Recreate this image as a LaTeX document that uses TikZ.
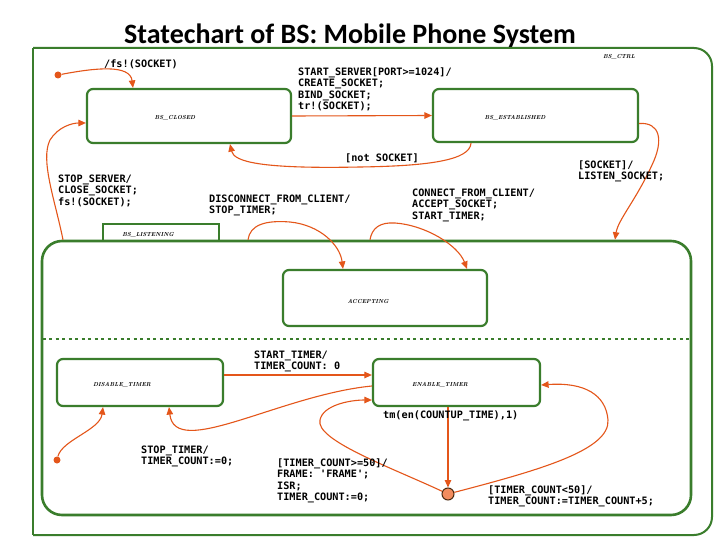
\documentclass[tikz,border=0pt]{standalone}
\usepackage{fontspec}
\usetikzlibrary{arrows.meta,calc}
\newfontfamily\lblfont{DejaVu Sans Mono}
\newfontfamily\titlefont{Carlito}
\definecolor{stg}{HTML}{3A7D2C}
\definecolor{tro}{HTML}{E4561A}
\definecolor{jfill}{HTML}{F28C5E}
\definecolor{jdraw}{HTML}{4A2A10}
\begin{document}
\begin{tikzpicture}[x=1pt,y=-1pt,
  statebox/.style={draw=stg,line width=2.2pt,rounded corners=6pt,inner sep=0pt},
  stname/.style={font=\fontsize{5.8}{6}\selectfont\itshape\bfseries,inner sep=0pt},
  lbl/.style={font=\lblfont\fontsize{10.2}{11.4}\selectfont\bfseries,anchor=north west,align=left,inner sep=0pt},
  trans/.style={draw=tro,line width=1.1pt,-{Triangle[length=7.5pt,width=6.5pt]}},
  initdot/.style={circle,fill=tro,inner sep=0pt,minimum size=7pt},
]
\useasboundingbox[fill=white] (0,0) rectangle (720,540);

% title
\node[font=\titlefont\bfseries\fontsize{28}{32}\selectfont,anchor=base] (title) at (350,44) {Statechart of BS: Mobile Phone System};

% outer BS_CTRL box
\draw[stg,line width=2pt] (33,48) [rounded corners=18pt] -- (712,48) -- (712,535) -- (33,535);
\draw[stg,line width=2pt] (33,48) -- (33,535);
\node[stname] (ctrllbl) at (619,57) {BS\_CTRL};

% states
\node[statebox,minimum width=204pt,minimum height=54pt] (closed) at (189,116) {};
\node[stname] (closedlbl) at (175,118) {BS\_CLOSED};
\node[statebox,minimum width=205pt,minimum height=53pt] (est) at (535.5,115.5) {};
\node[stname] (estlbl) at (515,118) {BS\_ESTABLISHED};

\node[draw=stg,line width=2pt,inner sep=0pt,minimum width=116pt,minimum height=17pt] (listtab) at (161,232.5) {};
\node[stname] (listlbl) at (148,235) {BS\_LISTENING};
\node[draw=stg,line width=2.6pt,rounded corners=20pt,inner sep=0pt,minimum width=649pt,minimum height=274pt,fill=none] (listening) at (366.5,378) {};
\draw[stg,line width=1.8pt,dash pattern=on 3pt off 3.5pt] ([yshift=39pt,xshift=2pt]listening.west) -- ([yshift=39pt,xshift=-3pt]listening.east);

\node[statebox,minimum width=204pt,minimum height=56pt] (accept) at (385,298) {};
\node[stname] (acceptlbl) at (368,301) {ACCEPTING};
\node[statebox,minimum width=166pt,minimum height=47pt] (disable) at (140,382.5) {};
\node[stname] (disablelbl) at (122,385) {DISABLE\_TIMER};
\node[statebox,minimum width=167pt,minimum height=47pt] (enable) at (456.5,382.5) {};
\node[stname] (enablelbl) at (440,385) {ENABLE\_TIMER};

\node[circle,draw=jdraw,fill=jfill,line width=1pt,inner sep=0pt,minimum size=12pt] (junc) at (448,494) {};

% initial dots
\node[initdot] (init1) at (58,75) {};
\node[initdot] (init2) at (57,460) {};

% transitions
\draw[trans] (init1) .. controls (95,68) and (130,64) .. ([xshift=-56pt]closed.north);
\node[lbl] (l1) at (104,59.5) {/fs!(SOCKET)};

\draw[trans] (closed.east) -- (est.west);
\node[lbl] (l2) at (298,67.5) {START\_SERVER[PORT>=1024]/\\CREATE\_SOCKET;\\BIND\_SOCKET;\\tr!(SOCKET);};

\draw[trans] ([xshift=-64.5pt]est.south) .. controls (470,160) and (430,166) .. (360,167) .. controls (262,169) and (234,162) .. ([xshift=41pt]closed.south);
\node[lbl] (l3) at (345,153.5) {[not SOCKET]};

\draw[trans] ([yshift=-8pt]est.east) .. controls (660,122) and (664,140) .. (652,165) .. controls (636,200) and (618,220) .. ([xshift=248.5pt]listening.north);
\node[lbl] (l4) at (578,160.5) {[SOCKET]/\\LISTEN\_SOCKET;};

\draw[trans] ([xshift=-303.5pt]listening.north) .. controls (55,200) and (40,160) .. (50,140) .. controls (58,127) and (72,123) .. ([yshift=-7pt]closed.west);
\node[lbl] (l5) at (58,174.5) {STOP\_SERVER/\\CLOSE\_SOCKET;\\fs!(SOCKET);};

\draw[trans] ([xshift=-118.5pt]listening.north) .. controls (250,225) and (265,220) .. (290,222) .. controls (320,225) and (340,245) .. ([xshift=-42pt]accept.north);
\node[lbl] (l6) at (209,194.5) {DISCONNECT\_FROM\_CLIENT/\\STOP\_TIMER;};

\draw[trans] ([xshift=3.5pt]listening.north) .. controls (372,228) and (380,222) .. (395,223) .. controls (425,225) and (458,245) .. ([xshift=82pt]accept.north);
\node[lbl] (l7) at (412,188.5) {CONNECT\_FROM\_CLIENT/\\ACCEPT\_SOCKET;\\START\_TIMER;};

\draw[trans] ([yshift=7.5pt]disable.east) -- ([yshift=7.5pt]enable.west);
\node[lbl] (l8) at (254,350.5) {START\_TIMER/\\TIMER\_COUNT: 0};

\draw[trans] ([yshift=-3.5pt]enable.west) .. controls (280,395) and (175,460) .. ([xshift=29pt]disable.south);
\node[lbl] (l9) at (141,445.5) {STOP\_TIMER/\\TIMER\_COUNT:=0;};

\draw[trans] (junc) .. controls (390,467) and (315,440) .. (320,420) .. controls (323,405) and (350,400) .. ([yshift=-17.5pt]enable.west);
\node[lbl] (l10) at (277,458.5) {[TIMER\_COUNT>=50]/\\FRAME: 'FRAME';\\ISR;\\TIMER\_COUNT:=0;};

\draw[trans] ([xshift=-8.5pt]enable.south) -- (junc.north);
\node[lbl] (l11) at (383,410.5) {tm(en(COUNTUP\_TIME),1)};

\draw[trans] (junc) .. controls (540,470) and (610,450) .. (608,420) .. controls (606,395) and (585,382) .. ([yshift=-2.5pt]enable.east);
\node[lbl] (l12) at (488,485.5) {[TIMER\_COUNT<50]/\\TIMER\_COUNT:=TIMER\_COUNT+5;};

\draw[trans] (init2) .. controls (62,440) and (100,430) .. ([xshift=-37pt]disable.south);
\end{tikzpicture}
\end{document}
